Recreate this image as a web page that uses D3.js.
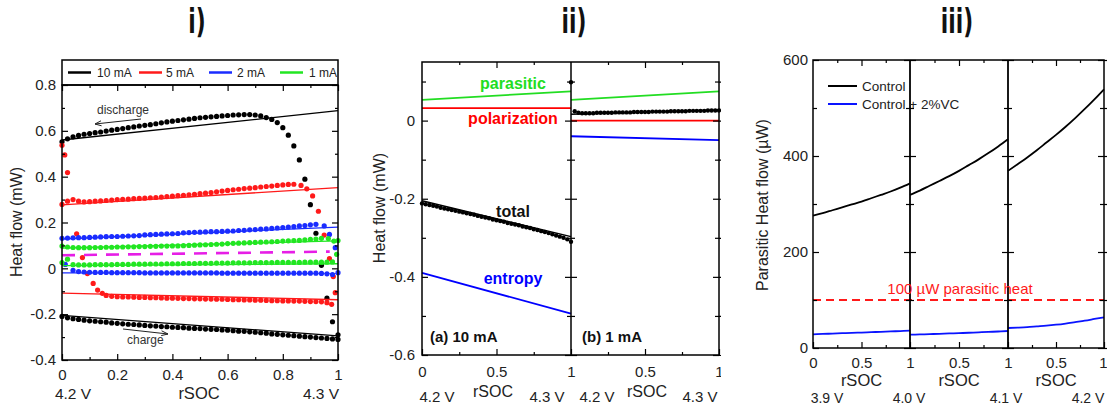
<!DOCTYPE html>
<html>
<head>
<meta charset="utf-8">
<script src="https://cdn.jsdelivr.net/npm/d3@7/dist/d3.min.js"></script>
<style>
  body { margin: 0; background: #fff; }
</style>
</head>
<body>
<script>
// ---------------- panel i : heat flow vs rSOC, four currents ----------------
var rates = ["10 mA", "5 mA", "2 mA", "1 mA"];
var rateColors = ["#000000", "#ff1a1a", "#1a2cff", "#22e622"];

// discharge / charge dots, rSOC every 0.02 (tails listed as [rSOC, value])
var dis10 = [0.552,0.565,0.574,0.580,0.585,0.588,0.592,0.595,0.599,0.603,
  0.606,0.610,0.614,0.617,0.621,0.624,0.627,0.631,0.635,0.639,
  0.642,0.645,0.648,0.651,0.654,0.657,0.659,0.661,0.663,0.665,
  0.667,0.669,0.670,0.671,0.671,0.669,0.665,0.658,0.650,0.636,
  0.614,0.581,0.534,0.473,0.389,0.278,0.153,0.013,-0.130,-0.233,-0.290];
var chg10 = [-0.210,-0.216,-0.220,-0.223,-0.226,-0.229,-0.231,-0.233,-0.235,-0.238,
  -0.240,-0.242,-0.244,-0.245,-0.247,-0.249,-0.251,-0.252,-0.254,-0.255,
  -0.257,-0.258,-0.259,-0.261,-0.262,-0.263,-0.265,-0.266,-0.267,-0.269,
  -0.270,-0.272,-0.274,-0.275,-0.277,-0.279,-0.281,-0.283,-0.286,-0.288,
  -0.290,-0.292,-0.294,-0.296,-0.298,-0.300,-0.302,-0.304,-0.306,-0.308,-0.310];
var dis5 = [0.279,0.293,0.300,0.293,0.290,0.291,0.293,0.294,0.296,0.298,
  0.300,0.301,0.302,0.304,0.305,0.306,0.308,0.309,0.311,0.313,
  0.315,0.317,0.319,0.321,0.323,0.326,0.328,0.331,0.334,0.337,
  0.340,0.343,0.345,0.348,0.350,0.352,0.355,0.357,0.359,0.362,
  0.364,0.366,0.367];
var dis5Tail = [[0.866,0.362],[0.887,0.347],[0.908,0.316],[0.929,0.249],[0.95,0.145],[0.969,0.042],[0.983,-0.036]];
var chg5Head = [[0.0,0.537],[0.01,0.495],[0.02,0.418],[0.053,0.151],[0.074,0.047],[0.092,-0.023],[0.113,-0.066],[0.129,-0.095],[0.146,-0.109]];
var chg5 = [-0.118,-0.122,-0.124,-0.125,-0.125,-0.126,-0.127,-0.127,-0.128,-0.128,
  -0.129,-0.130,-0.130,-0.131,-0.132,-0.132,-0.133,-0.133,-0.134,-0.134,
  -0.135,-0.135,-0.136,-0.137,-0.137,-0.138,-0.138,-0.139,-0.139,-0.140,
  -0.141,-0.141,-0.142,-0.142,-0.143,-0.143,-0.144,-0.145,-0.145,-0.146,-0.150];
var chg5Tail = [[0.977,-0.157],[0.99,-0.106]];
var dis2 = [0.131,0.132,0.133,0.134,0.134,0.135,0.136,0.137,0.138,0.139,
  0.139,0.140,0.141,0.142,0.143,0.146,0.147,0.148,0.149,0.150,
  0.151,0.152,0.155,0.156,0.157,0.158,0.159,0.160,0.160,0.161,
  0.162,0.163,0.165,0.166,0.168,0.169,0.171,0.172,0.174,0.176,
  0.178,0.180,0.182,0.185,0.187,0.190,0.192];
var dis2Tail = [[0.95,0.185],[0.969,0.148],[0.99,0.09]];
var chg2Head = [[0.012,0.017]];
var chg2 = [-0.009,-0.014,-0.016,-0.017,-0.018,-0.018,-0.018,-0.019,-0.019,-0.019,
  -0.019,-0.019,-0.019,-0.020,-0.020,-0.020,-0.020,-0.020,-0.020,-0.020,
  -0.020,-0.020,-0.020,-0.020,-0.020,-0.020,-0.020,-0.021,-0.021,-0.021,
  -0.021,-0.021,-0.021,-0.021,-0.021,-0.021,-0.021,-0.021,-0.021,-0.021,
  -0.021,-0.021,-0.021,-0.021,-0.021,-0.022,-0.024,-0.027];
var chg2Tail = [[1.0,-0.019]];
var dis1 = [0.097,0.093,0.091,0.090,0.090,0.090,0.091,0.091,0.092,0.092,
  0.093,0.093,0.094,0.094,0.095,0.095,0.096,0.096,0.097,0.097,
  0.098,0.098,0.099,0.100,0.101,0.102,0.103,0.104,0.105,0.106,
  0.108,0.109,0.110,0.111,0.112,0.113,0.114,0.115,0.116,0.117,
  0.119,0.120,0.121,0.122,0.124,0.126,0.128,0.131];
var dis1Tail = [[0.965,0.130],[0.985,0.119],[1.0,0.121]];
var chg1Head = [[0.0,0.025],[0.02,0.040]];
var chg1 = [0.016,0.015,0.015,0.015,0.016,0.016,0.016,0.016,0.017,0.017,
  0.017,0.018,0.018,0.018,0.019,0.019,0.019,0.020,0.020,0.020,
  0.021,0.021,0.021,0.022,0.022,0.022,0.023,0.023,0.023,0.024,
  0.024,0.024,0.024,0.025,0.025,0.025,0.025,0.026,0.026,0.026,
  0.026,0.026,0.027,0.027,0.027,0.027,0.027,0.028];
var chg1Tail = [[0.995,0.061]];

// straight fits (value at rSOC 0 and at rSOC 1), in the order of rates
var fitDisStart = [0.560, 0.277, 0.128, 0.088];
var fitDisEnd   = [0.688, 0.352, 0.180, 0.120];
var fitChgStart = [-0.205, -0.108, -0.020, 0.012];
var fitChgEnd   = [-0.295, -0.137, -0.021, 0.020];
var parasiticI  = [[0, 0.057], [0.97, 0.073]];

var yTicksI = [-0.4, -0.2, 0, 0.2, 0.4, 0.6, 0.8];
var yMinorI = [-0.3, -0.1, 0.1, 0.3, 0.5, 0.7];
var xTicksI = [0, 0.2, 0.4, 0.6, 0.8, 1];
var xMinorI = [0.1, 0.3, 0.5, 0.7, 0.9];

// ---------------- panel ii : heat components, (a) 10 mA (b) 1 mA ----------------
var components = ["parasitic", "polarization", "entropy"];
var compColors = ["#22dd22", "#ff0000", "#0000ff"];
var compStartA = [0.053, 0.032, -0.390];
var compEndA   = [0.075, 0.032, -0.494];
var compStartB = [0.053, 0.000, -0.040];
var compEndB   = [0.075, 0.000, -0.050];
var totalFitA = [-0.205, -0.297];
var totalFitB = [0.016, 0.027];
var socII = [0,0.025,0.05,0.075,0.1,0.125,0.15,0.175,0.2,0.225,0.25,0.275,0.3,0.325,0.35,0.375,0.4,0.425,0.45,0.475,
  0.5,0.525,0.55,0.575,0.6,0.625,0.65,0.675,0.7,0.725,0.75,0.775,0.8,0.825,0.85,0.875,0.9,0.925,0.95,0.975,1];
var totalA = [-0.212,-0.214,-0.216,-0.218,-0.220,-0.223,-0.225,-0.227,-0.229,-0.231,-0.233,-0.235,-0.237,-0.239,-0.241,-0.244,-0.246,-0.248,-0.250,-0.253,
  -0.255,-0.257,-0.259,-0.262,-0.264,-0.266,-0.268,-0.271,-0.273,-0.275,-0.278,-0.280,-0.283,-0.285,-0.288,-0.291,-0.294,-0.297,-0.300,-0.304,-0.310];
var totalB = [0.098,0.024,0.020,0.019,0.019,0.019,0.019,0.020,0.020,0.020,0.020,0.020,0.021,0.021,0.021,0.021,0.021,0.022,0.022,0.022,
  0.022,0.022,0.023,0.023,0.023,0.023,0.023,0.024,0.024,0.024,0.024,0.024,0.025,0.025,0.025,0.025,0.025,0.026,0.026,0.026,0.026];
var yTicksII = [0, -0.2, -0.4, -0.6];
var yMinorII = [0.1, -0.1, -0.3, -0.5];

// ---------------- panel iii : parasitic heat flow, three voltage windows ----------------
var socIII = [0, 0.1, 0.2, 0.3, 0.4, 0.5, 0.6, 0.7, 0.8, 0.9, 1];
var control = [
  [276, 281, 287, 293, 299, 305, 312, 319, 326, 334, 343],
  [319, 328, 338, 348, 358, 369, 381, 393, 406, 420, 435],
  [369, 383, 397, 412, 428, 444, 461, 479, 498, 518, 539]
];
var controlVC = [
  [28.5, 29.3, 30.0, 30.8, 31.5, 32.2, 33.0, 33.8, 34.5, 35.3, 36.0],
  [27.7, 28.3, 28.9, 29.6, 30.3, 31.0, 31.8, 32.6, 33.5, 34.4, 35.4],
  [41.7, 42.5, 43.5, 45.0, 46.5, 48.5, 51.0, 54.0, 57.0, 60.5, 64.0]
];
var threshold = 100;
var voltsIII = ["3.9 V", "4.0 V", "4.1 V", "4.2 V"];
var yTicksIII = [0, 200, 400, 600];
var yMinorIII = [100, 300, 500];

// ---------------- drawing ----------------
var FONT = '"Liberation Sans", Arial, Helvetica, sans-serif';
var svg = d3.select("body").append("svg")
  .attr("width", 1107).attr("height", 406)
  .attr("font-family", FONT);

function gridPts(vals, x0) {
  return vals.map(function(v, i) { return [x0 + i * 0.02, v]; });
}
var noLabel = function() { return ""; };
var plain = function(d) { return String(d); };

function tickAxis(parent, gen, scale, vals, size, tx, ty, fmt, pad, fs) {
  var a = gen(scale).tickValues(vals).tickSizeInner(size).tickSizeOuter(0)
    .tickPadding(pad || 4).tickFormat(fmt || noLabel);
  var g = parent.append("g").attr("transform", "translate(" + tx + "," + ty + ")").call(a);
  g.select(".domain").remove();
  g.attr("font-family", FONT).attr("font-size", fs || 15);
  g.selectAll(".tick line").attr("stroke", "#000").attr("stroke-width", 1.2);
  g.selectAll(".tick text").attr("fill", "#222");
  return g;
}

function label(parent, x, y, s, o) {
  o = o || {};
  return parent.append("text").attr("x", x).attr("y", y)
    .attr("text-anchor", o.anchor || "middle")
    .attr("font-size", o.size || 15)
    .attr("font-weight", o.weight || "normal")
    .attr("fill", o.color || "#222")
    .attr("transform", o.rotate ? "rotate(-90," + x + "," + y + ")" : null)
    .text(s);
}

function frame(parent, x0, x1, y0, y1) {
  parent.append("rect").attr("x", x0).attr("y", y0)
    .attr("width", x1 - x0).attr("height", y1 - y0)
    .attr("fill", "none").attr("stroke", "#000").attr("stroke-width", 1.5);
}

// titles (tall, narrow glyphs)
var titleFont = '"Liberation Sans Narrow", "DejaVu Sans Condensed", Arial, sans-serif';
[["i)", 197], ["ii)", 574], ["iii)", 957]].forEach(function(t) {
  svg.append("text").attr("x", 0).attr("y", 0).attr("text-anchor", "middle")
    .attr("transform", "translate(" + t[1] + ",33) scale(0.78,1.1)")
    .attr("font-family", titleFont).attr("font-size", 31).attr("font-weight", "bold")
    .attr("fill", "#111").text(t[0]);
});

// ===== panel i =====
var gI = svg.append("g");
var x1 = d3.scaleLinear().domain([0, 1]).range([62, 338]);
var y1 = d3.scaleLinear().domain([-0.4, 0.8]).range([360, 85]);
var lineI = d3.line().x(function(d) { return x1(d[0]); }).y(function(d) { return y1(d[1]); });

var seriesI = [
  { c: 0, pts: gridPts(dis10, 0) },
  { c: 0, pts: gridPts(chg10, 0) },
  { c: 1, pts: gridPts(dis5, 0).concat(dis5Tail) },
  { c: 1, pts: chg5Head.concat(gridPts(chg5, 0.16), chg5Tail) },
  { c: 2, pts: gridPts(dis2, 0).concat(dis2Tail) },
  { c: 2, pts: chg2Head.concat(gridPts(chg2, 0.04), chg2Tail) },
  { c: 3, pts: gridPts(dis1, 0).concat(dis1Tail) },
  { c: 3, pts: chg1Head.concat(gridPts(chg1, 0.04), chg1Tail) }
];

seriesI.forEach(function(s) {
  gI.append("g").selectAll("circle").data(s.pts).enter().append("circle")
    .attr("cx", function(d) { return x1(d[0]); })
    .attr("cy", function(d) { return y1(d[1]); })
    .attr("r", 2.6)
    .attr("fill", rateColors[s.c]);
});

rates.forEach(function(r, i) {
  gI.append("path").datum([[0, fitDisStart[i]], [1, fitDisEnd[i]]])
    .attr("d", lineI).attr("stroke", rateColors[i]).attr("stroke-width", 1.3).attr("fill", "none");
  gI.append("path").datum([[0, fitChgStart[i]], [1, fitChgEnd[i]]])
    .attr("d", lineI).attr("stroke", rateColors[i]).attr("stroke-width", 1.3).attr("fill", "none");
});
gI.append("path").datum(parasiticI).attr("d", lineI)
  .attr("stroke", "#e61ee6").attr("stroke-width", 2.6).attr("stroke-dasharray", "13,9").attr("fill", "none");

frame(gI, 62, 338, 85, 360);
frame(gI, 62, 338, 60, 85);
tickAxis(gI, d3.axisBottom, x1, xTicksI, -6, 0, 360, plain, 9);
tickAxis(gI, d3.axisBottom, x1, xMinorI, -3, 0, 360);
tickAxis(gI, d3.axisTop, x1, xTicksI, -6, 0, 85);
tickAxis(gI, d3.axisTop, x1, xMinorI, -3, 0, 85);
tickAxis(gI, d3.axisLeft, y1, yTicksI, -6, 62, 0, plain, 6);
tickAxis(gI, d3.axisLeft, y1, yMinorI, -3, 62, 0);
tickAxis(gI, d3.axisRight, y1, yTicksI, -6, 338, 0);
tickAxis(gI, d3.axisRight, y1, yMinorI, -3, 338, 0);

// legend
var legX = [[68, 97], [139, 166], [209, 237], [280, 309]];
rates.forEach(function(r, i) {
  gI.append("line").attr("x1", legX[i][0]).attr("x2", legX[i][0] + 23)
    .attr("y1", 72.5).attr("y2", 72.5).attr("stroke", rateColors[i]).attr("stroke-width", 2.5);
  label(gI, legX[i][1], 77, r, { anchor: "start", size: 12 });
});

label(gI, 97, 114, "discharge", { anchor: "start", size: 12, color: "#333" });
label(gI, 127, 344, "charge", { anchor: "start", size: 12, color: "#333" });
gI.append("path").attr("d", "M141,119 L95,124 M101,120.8 L95,124 L101.6,125.8")
  .attr("stroke", "#222").attr("fill", "none").attr("stroke-width", 1);
gI.append("path").attr("d", "M123,329 L168,334 M161.6,330.8 L168,334 L161.2,335.6")
  .attr("stroke", "#222").attr("fill", "none").attr("stroke-width", 1);

label(gI, 22, 222, "Heat flow (mW)", { size: 16, rotate: true });
label(gI, 73, 399, "4.2 V", { size: 15.5 });
label(gI, 199, 399, "rSOC", { size: 16.5 });
label(gI, 321, 399, "4.3 V", { size: 15.5 });

// ===== panel ii =====
svg.append("clipPath").attr("id", "clipII").append("rect")
  .attr("x", 360).attr("y", 40).attr("width", 361).attr("height", 366);
var gII = svg.append("g").attr("clip-path", "url(#clipII)");
var xa = d3.scaleLinear().domain([0, 1]).range([422, 571]);
var xb = d3.scaleLinear().domain([0, 1]).range([571, 719]);
var y2 = d3.scaleLinear().domain([-0.6, 0.15]).range([355, 62]);

[[xa, compStartA, compEndA, totalA, totalFitA], [xb, compStartB, compEndB, totalB, totalFitB]].forEach(function(p) {
  var xs = p[0];
  var ln = d3.line().x(function(d) { return xs(d[0]); }).y(function(d) { return y2(d[1]); });
  components.forEach(function(c, i) {
    gII.append("path").datum([[0, p[1][i]], [1, p[2][i]]]).attr("d", ln)
      .attr("stroke", compColors[i]).attr("stroke-width", 1.8).attr("fill", "none");
  });
  gII.append("g").selectAll("circle").data(p[3]).enter().append("circle")
    .attr("cx", function(d, i) { return xs(socII[i]); })
    .attr("cy", function(d) { return y2(d); })
    .attr("r", 2.2).attr("fill", "#000");
  gII.append("path").datum([[0, p[4][0]], [1, p[4][1]]]).attr("d", ln)
    .attr("stroke", "#000").attr("stroke-width", 1.5).attr("fill", "none");
});

frame(gII, 422, 719, 62, 355);
gII.append("line").attr("x1", 571).attr("x2", 571).attr("y1", 62).attr("y2", 355)
  .attr("stroke", "#000").attr("stroke-width", 1.5);
tickAxis(gII, d3.axisBottom, xa, [0, 0.5, 1], -6, 0, 355, plain, 11);
tickAxis(gII, d3.axisBottom, xb, [0.5, 1], -6, 0, 355, plain, 11);
[xa, xb].forEach(function(xs) {
  tickAxis(gII, d3.axisBottom, xs, [0.25, 0.75], -3, 0, 355);
  tickAxis(gII, d3.axisTop, xs, [0.5], -6, 0, 62);
  tickAxis(gII, d3.axisTop, xs, [0.25, 0.75], -3, 0, 62);
});
tickAxis(gII, d3.axisLeft, y2, yTicksII, -6, 422, 0, plain, 7);
tickAxis(gII, d3.axisLeft, y2, yMinorII, -4, 422, 0);
[571, 719].forEach(function(xp) {
  tickAxis(gII, d3.axisLeft, y2, yTicksII, -6, xp, 0);
  tickAxis(gII, d3.axisLeft, y2, yMinorII, -4, xp, 0);
  tickAxis(gII, d3.axisRight, y2, yTicksII, -6, xp, 0);
  tickAxis(gII, d3.axisRight, y2, yMinorII, -4, xp, 0);
});

label(gII, 513, 89, "parasitic", { size: 16, weight: "bold", color: compColors[0] });
label(gII, 513, 124, "polarization", { size: 16, weight: "bold", color: compColors[1] });
label(gII, 513, 217, "total", { size: 16, weight: "bold", color: "#111" });
label(gII, 513, 284, "entropy", { size: 16, weight: "bold", color: compColors[2] });
label(gII, 430, 342, "(a) 10 mA", { anchor: "start", size: 15, weight: "bold", color: "#111" });
label(gII, 582, 342, "(b) 1 mA", { anchor: "start", size: 15, weight: "bold", color: "#111" });
label(gII, 385, 208, "Heat flow (mW)", { size: 16, rotate: true });
[[437, "4.2 V"], [547, "4.3 V"], [597, "4.2 V"], [700, "4.3 V"]].forEach(function(t) {
  label(gII, t[0], 402, t[1], { size: 15 });
});
label(gII, 493, 397, "rSOC", { size: 16 });
label(gII, 647, 397, "rSOC", { size: 16 });

// ===== panel iii =====
var gIII = svg.append("g");
var edges = [813, 910, 1008, 1104];
var segX = [0, 1, 2].map(function(i) {
  return d3.scaleLinear().domain([0, 1]).range([edges[i], edges[i + 1]]);
});
var y3 = d3.scaleLinear().domain([0, 600]).range([348, 60]);

segX.forEach(function(xs, k) {
  var ln = d3.line().curve(d3.curveMonotoneX)
    .x(function(d, i) { return xs(socIII[i]); }).y(function(d) { return y3(d); });
  gIII.append("path").datum(control[k]).attr("d", ln)
    .attr("stroke", "#000").attr("stroke-width", 1.8).attr("fill", "none");
  gIII.append("path").datum(controlVC[k]).attr("d", ln)
    .attr("stroke", "#0a14ff").attr("stroke-width", 1.8).attr("fill", "none");
});
gIII.append("line").attr("x1", edges[0]).attr("x2", edges[3])
  .attr("y1", y3(threshold)).attr("y2", y3(threshold))
  .attr("stroke", "#ff1a1a").attr("stroke-width", 2.2).attr("stroke-dasharray", "8,5");

frame(gIII, 813, 1104, 60, 348);
[910, 1008].forEach(function(xp) {
  gIII.append("line").attr("x1", xp).attr("x2", xp).attr("y1", 60).attr("y2", 348)
    .attr("stroke", "#000").attr("stroke-width", 1.8);
});
segX.forEach(function(xs, k) {
  var ax = tickAxis(gIII, d3.axisBottom, xs, k === 0 ? [0, 0.5, 1] : [0.5, 1], -6, 0, 348, plain, 9);
  if (k === 2) {
    // last label sits on the image edge; nudge it inside
    ax.selectAll(".tick text").filter(function(d) { return d === 1; }).attr("dx", -2).attr("text-anchor", "end").attr("dx", 3);
  }
  tickAxis(gIII, d3.axisBottom, xs, [0.25, 0.75], -3, 0, 348);
  tickAxis(gIII, d3.axisTop, xs, [0.5], -6, 0, 60);
  tickAxis(gIII, d3.axisTop, xs, [0.25, 0.75], -3, 0, 60);
});
tickAxis(gIII, d3.axisLeft, y3, yTicksIII, -6, 813, 0, plain, 5);
tickAxis(gIII, d3.axisLeft, y3, yMinorIII, -4, 813, 0);
[910, 1008, 1104].forEach(function(xp) {
  tickAxis(gIII, d3.axisLeft, y3, yTicksIII, -6, xp, 0);
  tickAxis(gIII, d3.axisLeft, y3, yMinorIII, -4, xp, 0);
  tickAxis(gIII, d3.axisRight, y3, yTicksIII, -6, xp, 0);
  tickAxis(gIII, d3.axisRight, y3, yMinorIII, -4, xp, 0);
});

// legend
gIII.append("line").attr("x1", 828).attr("x2", 857).attr("y1", 86).attr("y2", 86)
  .attr("stroke", "#000").attr("stroke-width", 2);
gIII.append("line").attr("x1", 828).attr("x2", 857).attr("y1", 104).attr("y2", 104)
  .attr("stroke", "#0a14ff").attr("stroke-width", 2);
label(gIII, 862, 91, "Control", { anchor: "start", size: 13.5 });
label(gIII, 862, 109, "Control + 2%VC", { anchor: "start", size: 13.5 });
label(gIII, 960, 294, "100 \u00b5W parasitic heat", { size: 15, color: "#ff1a1a" });

label(gIII, 768, 205, "Parasitic Heat flow (\u00b5W)", { size: 16, rotate: true });
segX.forEach(function(xs) {
  label(gIII, xs(0.5), 386, "rSOC", { size: 16.5 });
});
[827, 909, 1006, 1088].forEach(function(xp, i) {
  label(gIII, xp, 403, voltsIII[i], { size: 14 });
});
</script>
</body>
</html>
